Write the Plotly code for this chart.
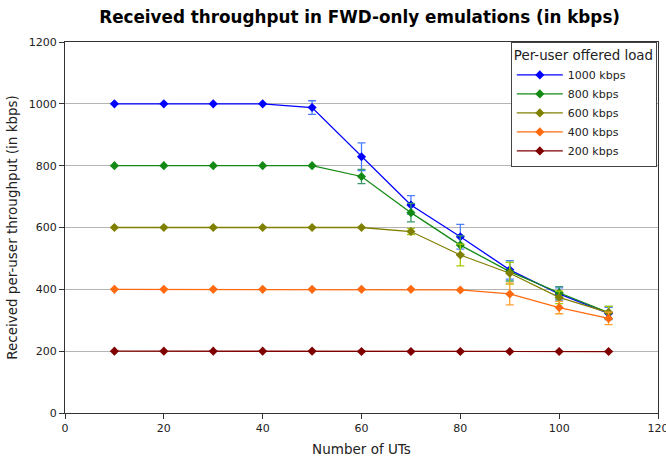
import plotly.graph_objects as go

x_uts = [10, 20, 30, 40, 50, 60, 70, 80, 90, 100, 110]

names = ["1000 kbps", "800 kbps", "600 kbps", "400 kbps", "200 kbps"]
vals_1000 = [1000, 1000, 1000, 1000, 988, 829, 673, 570, 463, 385, 322]
vals_800 = [800, 800, 800, 800, 800, 765, 648, 543, 457, 389, 325]
vals_600 = [600, 600, 600, 600, 600, 600, 587, 511, 452, 374, 325]
vals_400 = [400, 400, 400, 400, 400, 400, 400, 398, 385, 341, 306]
vals_200 = [200, 200, 200, 200, 200, 199, 199, 199, 199, 199, 199]

err_1000 = [0, 0, 0, 0, 22, 45, 30, 40, 30, 20, 20]
err_800 = [0, 0, 0, 0, 0, 23, 30, 30, 30, 20, 20]
err_600 = [0, 0, 0, 0, 0, 0, 10, 35, 35, 20, 20]
err_400 = [0, 0, 0, 0, 0, 0, 0, 0, 35, 20, 20]
err_200 = [0, 0, 0, 0, 0, 0, 0, 0, 0, 0, 0]

series = [vals_1000, vals_800, vals_600, vals_400, vals_200]
errors = [err_1000, err_800, err_600, err_400, err_200]
colors = ["#0000ff", "#138a13", "#808000", "#ff6a10", "#800000"]
err_colors = ["#4a7dff", "#3a9a6a", "#a8c800", "#ffa030", "#a03030"]

fig = go.Figure()
for n, v, e, c, ec in zip(names, series, errors, colors, err_colors):
    fig.add_trace(go.Scatter(
        x=x_uts, y=v, name=n, mode="lines+markers",
        line=dict(color=c, width=1.3),
        marker=dict(symbol="diamond", size=7, color=c),
        error_y=dict(type="data", array=e, visible=True, color=ec,
                     thickness=1.3, width=4),
    ))

fig.update_layout(
    width=666, height=459,
    margin=dict(l=65, r=8, t=42, b=46, autoexpand=False),
    paper_bgcolor="white", plot_bgcolor="white",
    font=dict(family="DejaVu Sans", size=11, color="#222"),
    title=dict(text="<b>Received throughput in FWD-only emulations (in kbps)</b>",
               x=0.54, xanchor="center", y=0.962, yanchor="middle",
               font=dict(size=16.8, color="black"), automargin=False),
    showlegend=True,
    legend=dict(
        title=dict(text="Per-user offered load", font=dict(size=13.4)),
        x=0.998, y=1.0, xanchor="right", yanchor="top",
        bgcolor="white", bordercolor="#444", borderwidth=1,
        font=dict(size=11), tracegroupgap=0, itemwidth=46,
    ),
    xaxis=dict(range=[0, 120], tickvals=[0, 20, 40, 60, 80, 100, 120],
               showgrid=False, showline=True, linecolor="#333", linewidth=1,
               mirror=True, ticks="outside", ticklen=5, tickcolor="#333",
               ticklabeloverflow="allow",
               title=dict(text="Number of UTs", font=dict(size=13.5), standoff=10),
               zeroline=False, automargin=False),
    yaxis=dict(range=[0, 1200], tickvals=[0, 200, 400, 600, 800, 1000, 1200],
               showgrid=True, gridcolor="#b4b4b4", gridwidth=1,
               showline=True, linecolor="#333", linewidth=1, mirror=True,
               ticks="outside", ticklen=5, tickcolor="#333",
               title=dict(text="Received per-user throughput (in kbps)",
                          font=dict(size=13.5), standoff=8),
               zeroline=False, automargin=False),
)

fig.write_html("out.html", config={"displayModeBar": False},
               post_script="document.body.style.margin='0';document.body.style.overflow='hidden';")
